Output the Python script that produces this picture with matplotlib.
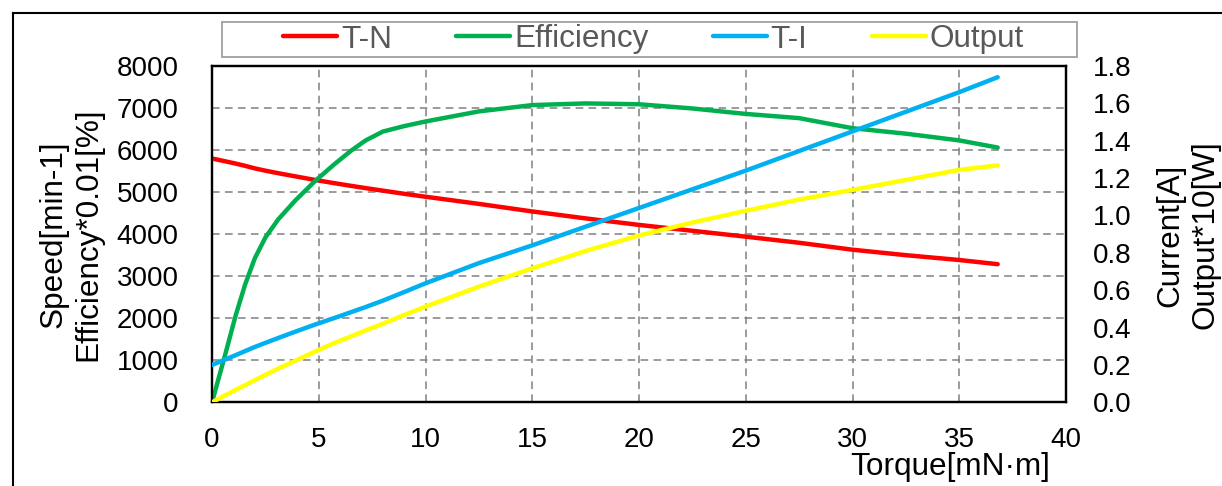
import matplotlib
matplotlib.use("Agg")
import matplotlib.pyplot as plt
from matplotlib.lines import Line2D
from matplotlib.patches import Rectangle

# ---- data ----
torque = [0, 0.6, 1.1, 1.55, 2.0, 2.5, 3.1, 3.9, 4.8, 5.7, 6.5, 7.2, 8.0, 9.0, 10.0,
          12.5, 15.0, 17.5, 20.0, 22.5, 25.0, 27.5, 30.0, 32.5, 35.0, 36.8]
speed = [5800, 5735, 5680, 5625, 5565, 5510, 5450, 5375, 5292, 5215, 5150, 5095,
         5035, 4960, 4890, 4720, 4540, 4375, 4220, 4080, 3940, 3795, 3630, 3500,
         3385, 3285]
efficiency = [0, 1100, 2050, 2800, 3420, 3920, 4350, 4800, 5250, 5650, 5980, 6230,
              6440, 6570, 6680, 6920, 7070, 7110, 7090, 6990, 6860, 6760, 6520, 6390,
              6230, 6060]
current = [0.20, 0.228, 0.252, 0.274, 0.296, 0.318, 0.344, 0.378, 0.415, 0.45,
           0.482, 0.51, 0.544, 0.59, 0.637, 0.745, 0.84, 0.94, 1.04, 1.14, 1.24,
           1.345, 1.45, 1.555, 1.66, 1.74]
output = [0, 0.036, 0.066, 0.092, 0.118, 0.147, 0.18, 0.222, 0.27, 0.316, 0.352,
          0.385, 0.42, 0.467, 0.512, 0.619, 0.717, 0.81, 0.893, 0.962, 1.025, 1.085,
          1.137, 1.19, 1.244, 1.268]

series_names = ["T-N", "Efficiency", "T-I", "Output"]
series_colors = ["#FF0000", "#00B050", "#00B0F0", "#FFFF00"]

x_ticks = list(range(0, 45, 5))
left_ticks = list(range(0, 9000, 1000))
right_ticks = [0.0, 0.2, 0.4, 0.6, 0.8, 1.0, 1.2, 1.4, 1.6, 1.8]

W, H = 1222, 486
plt.rcParams['font.family'] = ['Liberation Sans', 'DejaVu Sans']
fig = plt.figure(figsize=(W / 100, H / 100), dpi=100)

def fx(px):
    return px / W

def fy(py):
    return 1 - py / H

ax = fig.add_axes([fx(212), fy(402.3), fx(1066) - fx(212), fy(66) - fy(402.3)])
ax2 = ax.twinx()

lw = 3.2
l1, = ax.plot(torque, speed, color=series_colors[0], lw=lw, solid_capstyle='round',
              solid_joinstyle='round', zorder=3)
l2, = ax.plot(torque, efficiency, color=series_colors[1], lw=lw, solid_capstyle='round',
              solid_joinstyle='round', zorder=4)
l3, = ax2.plot(torque, current, color=series_colors[2], lw=lw, solid_capstyle='round',
               solid_joinstyle='round', zorder=3)
l4, = ax2.plot(torque, output, color=series_colors[3], lw=lw, solid_capstyle='round',
               solid_joinstyle='round', zorder=4)

ax.set_xlim(0, 40)
ax.set_ylim(0, 8000)
ax2.set_ylim(0, 1.8)
ax.set_xticks(x_ticks)
ax.set_yticks(left_ticks)
ax2.set_yticks(right_ticks)
ax2.set_yticklabels([f"{v:.1f}" for v in right_ticks])

ax.grid(True, color="#808080", linestyle=(0, (5, 3.5)), linewidth=1.1, zorder=1)
ax.set_axisbelow(True)
ax2.patch.set_visible(False)

tick_fs = 20
ax.tick_params(axis='x', length=0, pad=18, labelsize=tick_fs, colors='black')
ax.tick_params(axis='y', length=0, pad=24, labelsize=tick_fs)
ax2.tick_params(axis='y', length=0, pad=19, labelsize=tick_fs)
for a in (ax, ax2):
    for s in a.spines.values():
        s.set_color('black')
        s.set_linewidth(1.6)

label_fs = 22.7
fig.text(fx(71), fy(234), "Speed[min-1]\nEfficiency*0.01[%]", rotation=90,
         ha='center', va='center', fontsize=label_fs, multialignment='center')
fig.text(fx(1188), fy(235), "Current[A]\nOutput*10[W]", rotation=90,
         ha='center', va='center', fontsize=label_fs, multialignment='center')
fig.text(fx(1050), fy(467), "Torque[mN·m]", ha='right', va='center', fontsize=label_fs)

# legend frame and legend
fig.patches.append(Rectangle((fx(222), fy(57)), fx(1077) - fx(222), fy(22) - fy(57),
                             transform=fig.transFigure, fill=False,
                             edgecolor="#A6A6A6", linewidth=1.4, zorder=5))
fig.legend([l1, l2, l3, l4], series_names, loc='center',
           bbox_to_anchor=(fx(653.5), fy(39.5)), ncol=4, frameon=False,
           fontsize=label_fs, borderpad=0, columnspacing=2.03,
           handlelength=1.72, handletextpad=0.12, labelcolor="#595959")

# outer frame (left and top edges)
fig.add_artist(Line2D([fx(13), fx(13)], [fy(13), 0], transform=fig.transFigure,
                      color='black', lw=1.5))
fig.add_artist(Line2D([fx(13), 1], [fy(13), fy(13)], transform=fig.transFigure,
                      color='black', lw=1.5))

fig.savefig("out.png", dpi=100)
